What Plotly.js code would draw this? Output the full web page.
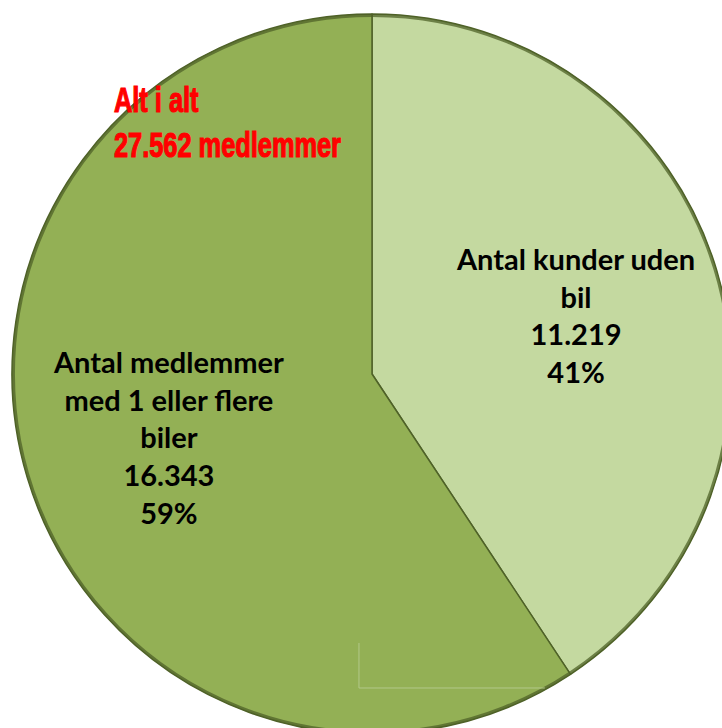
<!DOCTYPE html>
<html><head><meta charset="utf-8">
<script src="https://cdn.plot.ly/plotly-3.0.1.min.js"></script>
<style>html,body{margin:0;padding:0;overflow:hidden;background:#fff}#c{position:absolute;left:0;top:0}</style>
</head><body><div id="c"></div>
<script>
const categories = ["Antal kunder uden<br>bil", "Antal medlemmer<br>med 1 eller flere<br>biler"];
const values = [11219, 16343];
const colors = ["#c4d9a0", "#93b055"];
const totalLabel = "Alt i alt";
const totalUnit = "medlemmer";

const total = values.reduce((a, b) => a + b, 0);
const fmt = n => String(n).replace(/\B(?=(\d{3})+(?!\d))/g, ".");

const trace = {
  type: "pie",
  labels: categories,
  values: values,
  sort: false,
  direction: "clockwise",
  rotation: 0,
  marker: {colors: colors, line: {color: "#4f6228", width: 1.5}},
  textinfo: "none",
  hoverinfo: "none",
  showlegend: false
};

// label annotations placed at each slice's mid-angle (computed from the values)
const labelFont = {family: "Lato, 'Open Sans', sans-serif", size: 29, color: "#000"};
const annotations = [];
let cum = 0;
values.forEach((v, i) => {
  const mid = (cum + v / 2) / total * 2 * Math.PI; // clockwise from 12 o'clock
  cum += v;
  const f = 0.59 * 0.5;
  annotations.push({
    xref: "paper", yref: "paper",
    x: 0.5 + f * Math.sin(mid), y: 0.5 + f * Math.cos(mid) - 0.003,
    xanchor: "center", yanchor: "middle", align: "center", showarrow: false,
    text: "<b>" + categories[i] + "<br>" + fmt(v) + "<br>" + Math.round(v / total * 100) + "%</b>",
    font: labelFont
  });
});
annotations.unshift({
  xref: "paper", yref: "paper", x: 0.1395, y: 0.911, xanchor: "left", yanchor: "top",
  align: "left", showarrow: false,
  text: "<b>" + totalLabel + "<br>" + fmt(total) + " " + totalUnit + "</b>",
  font: {family: "'Liberation Sans', Arial, sans-serif", size: 35, color: "#ff0000"}
});

const layout = {
  width: 732, height: 734,
  margin: {l: 12, r: 0, t: 14, b: 0},
  separators: ",.",
  paper_bgcolor: "#fff",
  annotations: annotations,
  shapes: [
    {type: "circle", xref: "paper", yref: "paper", x0: 0.002, x1: 0.998, y0: 0.002, y1: 0.998, line: {color: "rgba(79,98,40,0.75)", width: 3}},
    {type: "line", xref: "paper", yref: "paper", x0: 0.4819, x1: 0.4819, y0: 0.1264, y1: 0.0639, line: {color: "#b3c98a", width: 1}},
    {type: "line", xref: "paper", yref: "paper", x0: 0.4819, x1: 0.74, y0: 0.0639, y1: 0.0639, line: {color: "#b3c98a", width: 1}}
  ]
};

Plotly.newPlot("c", [trace], layout, {displayModeBar: false, staticPlot: true}).then(gd => {
  const t = gd.querySelector('.annotation[data-index="0"] text.annotation-text');
  if (t) {
    const bb = t.getBBox();
    const x0 = bb.x;
    t.setAttribute("transform", `translate(${x0},0) scale(0.725,1) translate(${-x0},0)`);
    t.style.stroke = "#ff0000";
    t.style.strokeWidth = "1.2px";
  }
});
</script></body></html>
